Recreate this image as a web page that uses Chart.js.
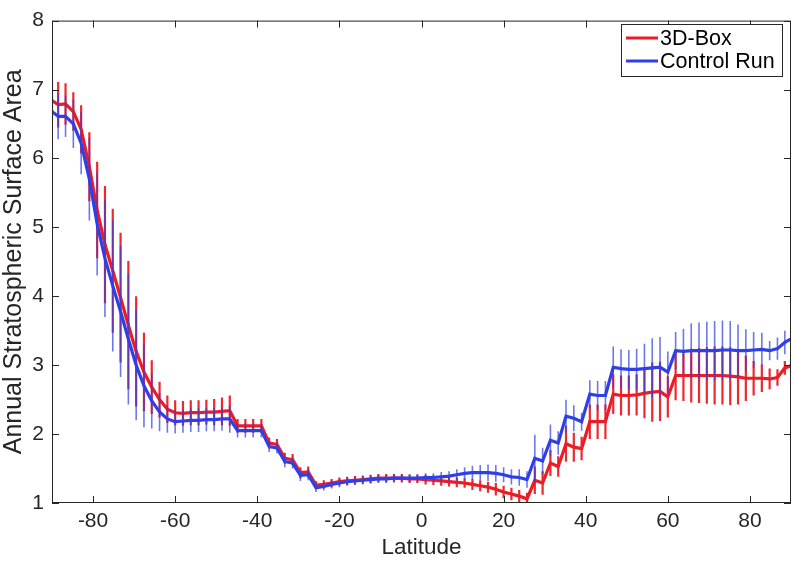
<!DOCTYPE html>
<html>
<head>
<meta charset="utf-8">
<script src="https://cdn.jsdelivr.net/npm/chart.js@4/dist/chart.umd.min.js"></script>
<style>
  html, body { margin: 0; padding: 0; background: #fff; }
</style>
</head>
<body>
<canvas id="chart" width="796" height="565"></canvas>
<script>
// Latitudes (Gaussian grid, plus the poles)
const latitudes = [
  -90, -88.5, -86.7, -84.8, -82.9, -80.9, -79.0, -77.1, -75.2, -73.3,
  -71.4, -69.5, -67.6, -65.7, -63.8, -61.9, -60.0, -58.1, -56.2, -54.3,
  -52.4, -50.5, -48.6, -46.7, -44.8, -42.9, -41.0, -39.0, -37.1, -35.2,
  -33.3, -31.4, -29.5, -27.6, -25.7, -23.8, -21.9, -20.0, -18.1, -16.2,
  -14.3, -12.4, -10.5, -8.6, -6.7, -4.8, -2.9, -1.0, 1.0, 2.9,
  4.8, 6.7, 8.6, 10.5, 12.4, 14.3, 16.2, 18.1, 20.0, 21.9,
  23.8, 25.7, 27.6, 29.5, 31.4, 33.3, 35.2, 37.1, 39.0, 41.0,
  42.9, 44.8, 46.7, 48.6, 50.5, 52.4, 54.3, 56.2, 58.1, 60.0,
  61.9, 63.8, 65.7, 67.6, 69.5, 71.4, 73.3, 75.2, 77.1, 79.0,
  80.9, 82.9, 84.8, 86.7, 88.5, 90
];

// 3D-Box run
const boxMean = [
  6.84, 6.78, 6.79, 6.68, 6.42, 5.88, 5.25, 4.75, 4.37, 3.98,
  3.58, 3.20, 2.90, 2.68, 2.50, 2.36, 2.31, 2.30, 2.31, 2.31,
  2.32, 2.32, 2.33, 2.34, 2.12, 2.12, 2.12, 2.12, 1.87, 1.85,
  1.65, 1.63, 1.44, 1.45, 1.26, 1.27, 1.29, 1.31, 1.32, 1.33,
  1.34, 1.35, 1.36, 1.36, 1.36, 1.36, 1.35, 1.35, 1.34, 1.33,
  1.32, 1.31, 1.30, 1.29, 1.27, 1.25, 1.23, 1.20, 1.16, 1.13,
  1.10, 1.06, 1.33, 1.29, 1.58, 1.53, 1.86, 1.81, 1.79, 2.18,
  2.18, 2.18, 2.58, 2.56, 2.56, 2.57, 2.59, 2.61, 2.62, 2.54,
  2.85, 2.85, 2.85, 2.85, 2.85, 2.85, 2.85, 2.84, 2.83, 2.81,
  2.81, 2.81, 2.80, 2.82, 2.96, 2.99
];
const boxErr = [
  0.30, 0.33, 0.30, 0.28, 0.35, 0.50, 0.70, 0.85, 0.90, 0.94,
  0.93, 0.80, 0.57, 0.39, 0.26, 0.20, 0.18, 0.18, 0.18, 0.18,
  0.18, 0.19, 0.20, 0.22, 0.10, 0.10, 0.10, 0.10, 0.08, 0.08,
  0.08, 0.08, 0.08, 0.08, 0.06, 0.06, 0.06, 0.06, 0.06, 0.06,
  0.06, 0.06, 0.06, 0.06, 0.06, 0.06, 0.06, 0.06, 0.07, 0.07,
  0.07, 0.07, 0.07, 0.07, 0.08, 0.08, 0.08, 0.09, 0.09, 0.09,
  0.09, 0.09, 0.20, 0.17, 0.19, 0.15, 0.26, 0.21, 0.17, 0.25,
  0.25, 0.25, 0.29, 0.29, 0.29, 0.30, 0.36, 0.43, 0.43, 0.30,
  0.36, 0.37, 0.39, 0.40, 0.41, 0.42, 0.42, 0.42, 0.40, 0.33,
  0.25, 0.20, 0.15, 0.12, 0.10, 0.10
];

// Control run
const controlMean = [
  6.68, 6.61, 6.61, 6.50, 6.22, 5.70, 5.05, 4.55, 4.15, 3.78,
  3.38, 3.00, 2.70, 2.48, 2.32, 2.22, 2.18, 2.19, 2.20, 2.20,
  2.21, 2.21, 2.22, 2.22, 2.05, 2.05, 2.05, 2.05, 1.82, 1.80,
  1.60, 1.58, 1.40, 1.41, 1.22, 1.24, 1.27, 1.29, 1.31, 1.32,
  1.33, 1.34, 1.35, 1.35, 1.36, 1.36, 1.36, 1.36, 1.37, 1.37,
  1.38, 1.39, 1.41, 1.43, 1.44, 1.44, 1.44, 1.43, 1.41, 1.38,
  1.37, 1.34, 1.65, 1.61, 1.91, 1.87, 2.26, 2.23, 2.18, 2.58,
  2.56, 2.56, 2.97, 2.95, 2.94, 2.94, 2.95, 2.96, 2.97, 2.90,
  3.21, 3.20, 3.21, 3.21, 3.21, 3.21, 3.22, 3.22, 3.21, 3.21,
  3.22, 3.23, 3.21, 3.24, 3.33, 3.38
];
const controlErr = [
  0.30, 0.33, 0.30, 0.35, 0.45, 0.60, 0.75, 0.85, 0.95, 0.95,
  0.95, 0.80, 0.60, 0.40, 0.28, 0.20, 0.17, 0.17, 0.17, 0.17,
  0.17, 0.17, 0.17, 0.20, 0.10, 0.10, 0.10, 0.10, 0.08, 0.08,
  0.08, 0.08, 0.08, 0.08, 0.06, 0.06, 0.06, 0.06, 0.06, 0.06,
  0.06, 0.06, 0.06, 0.06, 0.06, 0.06, 0.06, 0.06, 0.06, 0.06,
  0.07, 0.07, 0.08, 0.09, 0.10, 0.11, 0.12, 0.12, 0.11, 0.11,
  0.12, 0.12, 0.34, 0.19, 0.23, 0.17, 0.24, 0.19, 0.13, 0.20,
  0.21, 0.21, 0.30, 0.28, 0.28, 0.30, 0.36, 0.43, 0.44, 0.30,
  0.27, 0.33, 0.40, 0.41, 0.42, 0.43, 0.43, 0.42, 0.38, 0.31,
  0.26, 0.24, 0.14, 0.16, 0.17, 0.15
];

const xTicks = [-80, -60, -40, -20, 0, 20, 40, 60, 80];
const yTicks = [1, 2, 3, 4, 5, 6, 7, 8];

const FONT = "'Liberation Sans', Arial, Helvetica, sans-serif";
const AXIS = '#262626';

function toPoints(values) {
  return latitudes.map((lat, i) => ({ x: lat, y: values[i] }));
}

// error bars are drawn just before each line, so the later run sits on top
const errorBars = {
  id: 'errorBars',
  beforeDatasetDraw(chart, args) {
    const ds = chart.data.datasets[args.index];
    const { ctx, chartArea, scales } = chart;
    ctx.save();
    ctx.beginPath();
    ctx.rect(chartArea.left, chartArea.top, chartArea.right - chartArea.left, chartArea.bottom - chartArea.top);
    ctx.clip();
    ctx.strokeStyle = ds.barColor;
    ctx.lineWidth = ds.barWidth;
    ds.data.forEach((p, i) => {
      const px = scales.x.getPixelForValue(p.x);
      ctx.beginPath();
      ctx.moveTo(px, scales.y.getPixelForValue(p.y - ds.errors[i]));
      ctx.lineTo(px, scales.y.getPixelForValue(p.y + ds.errors[i]));
      ctx.stroke();
    });
    ctx.restore();
  }
};

// box around the axes with inward ticks, plus the boxed legend
const axesBox = {
  id: 'axesBox',
  afterDatasetsDraw(chart) {
    const { ctx, chartArea: a, scales } = chart;
    ctx.save();
    ctx.strokeStyle = AXIS;
    ctx.lineWidth = 1;
    ctx.strokeRect(a.left + 0.5, a.top + 0.5, a.right - a.left - 1, a.bottom - a.top - 1);
    ctx.beginPath();
    xTicks.forEach(v => {
      const px = Math.round(scales.x.getPixelForValue(v)) + 0.5;
      ctx.moveTo(px, a.bottom); ctx.lineTo(px, a.bottom - 7);
      ctx.moveTo(px, a.top); ctx.lineTo(px, a.top + 7);
    });
    yTicks.forEach(v => {
      const py = Math.round(scales.y.getPixelForValue(v)) + 0.5;
      ctx.moveTo(a.left, py); ctx.lineTo(a.left + 7, py);
      ctx.moveTo(a.right, py); ctx.lineTo(a.right - 7, py);
    });
    ctx.stroke();

    // legend
    const lx = 621, ly = 24, lw = 161, lh = 52;
    ctx.fillStyle = '#fff';
    ctx.fillRect(lx, ly, lw, lh);
    ctx.strokeRect(lx + 0.5, ly + 0.5, lw, lh);
    ctx.font = '21.5px ' + FONT;
    ctx.textBaseline = 'middle';
    ctx.textAlign = 'left';
    chart.data.datasets.forEach((ds, i) => {
      const y = ly + 14 + i * 23;
      ctx.strokeStyle = ds.borderColor;
      ctx.lineWidth = 3;
      ctx.beginPath();
      ctx.moveTo(lx + 5, y); ctx.lineTo(lx + 37, y);
      ctx.stroke();
      ctx.fillStyle = '#000';
      ctx.fillText(ds.label, lx + 39, y + 1);
    });
    ctx.restore();
  }
};

new Chart(document.getElementById('chart'), {
  type: 'line',
  data: {
    datasets: [
      {
        label: '3D-Box',
        data: toPoints(boxMean),
        errors: boxErr,
        borderColor: '#ec1c24',
        barColor: 'rgba(236,28,36,0.95)',
        barWidth: 2.2,
        borderWidth: 3.2,
        pointRadius: 0,
        tension: 0,
        order: 2
      },
      {
        label: 'Control Run',
        data: toPoints(controlMean),
        errors: controlErr,
        borderColor: '#2e3fe8',
        barColor: 'rgba(46,63,225,0.7)',
        barWidth: 1.6,
        borderWidth: 3.2,
        pointRadius: 0,
        tension: 0,
        order: 1
      }
    ]
  },
  options: {
    responsive: false,
    animation: false,
    devicePixelRatio: 1,
    layout: { padding: { top: 14, right: 5, left: 0, bottom: 0 } },
    plugins: {
      legend: { display: false },
      tooltip: { enabled: false }
    },
    scales: {
      x: {
        type: 'linear',
        min: -90,
        max: 90,
        afterBuildTicks: scale => { scale.ticks = xTicks.map(v => ({ value: v })); },
        afterFit: scale => { scale.height = 62; },
        grid: { display: false, drawTicks: false },
        border: { display: false },
        ticks: { color: AXIS, font: { family: FONT, size: 21 }, padding: 6, maxRotation: 0 },
        title: { display: true, text: 'Latitude', color: AXIS, font: { family: FONT, size: 22.5 }, padding: { top: 0, bottom: 4 } }
      },
      y: {
        type: 'linear',
        min: 1,
        max: 8,
        afterBuildTicks: scale => { scale.ticks = yTicks.map(v => ({ value: v })); },
        afterFit: scale => { scale.width = 52; },
        grid: { display: false, drawTicks: false },
        border: { display: false },
        ticks: { color: AXIS, font: { family: FONT, size: 21 }, padding: 8 },
        title: { display: true, text: 'Annual Stratospheric Surface Area', color: AXIS, font: { family: FONT, size: 25 }, padding: { top: -1, bottom: 0 } }
      }
    }
  },
  plugins: [errorBars, axesBox]
});
</script>
</body>
</html>
